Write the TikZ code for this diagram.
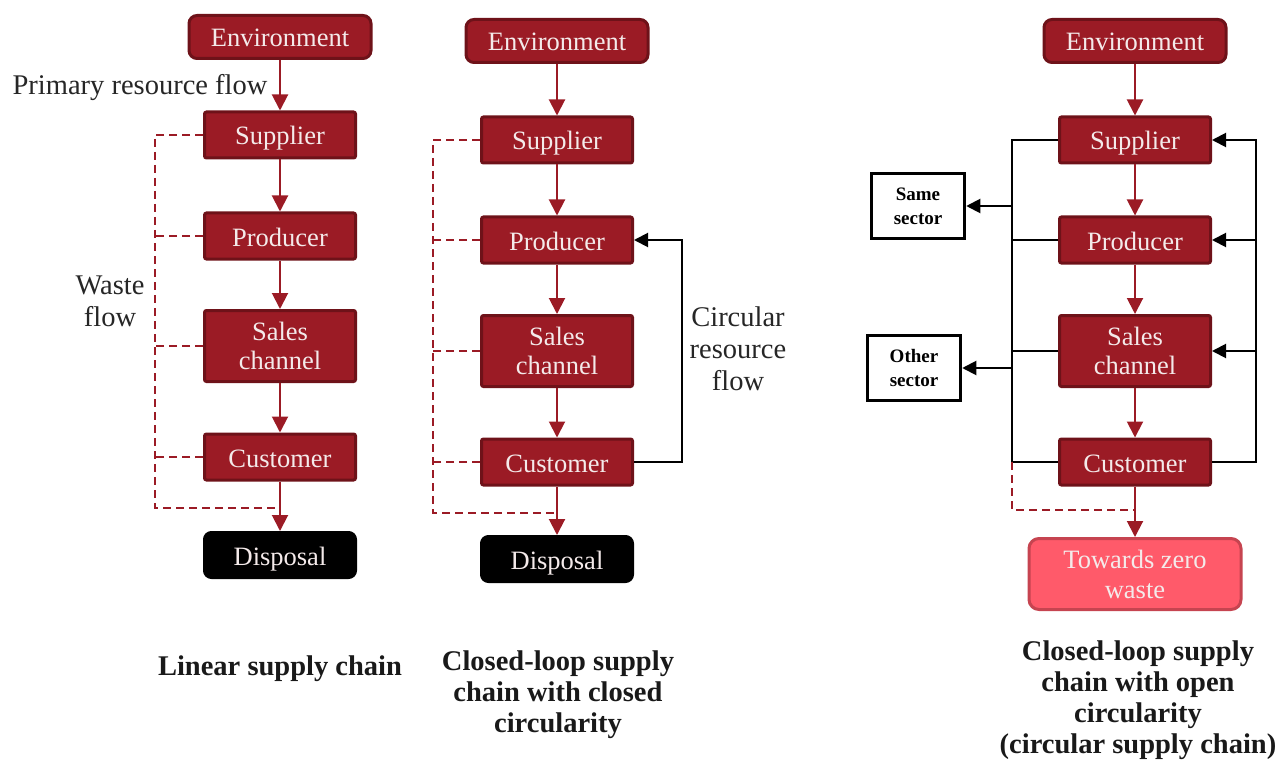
\documentclass[tikz,border=0pt]{standalone}
\usepackage{fontspec}
\setmainfont{Liberation Serif}
\usetikzlibrary{arrows.meta}
\definecolor{chainred}{HTML}{9B1B25}
\definecolor{chainedge}{HTML}{6E1219}
\definecolor{boxtext}{HTML}{F4EAEA}
\definecolor{zerofill}{HTML}{FF5A6A}
\definecolor{zeroedge}{HTML}{C64450}
\tikzset{
  stagebase/.style={draw=chainedge, fill=chainred, line width=3pt, rounded corners=2pt,
    minimum width=151pt, minimum height=46pt, inner sep=0pt, align=center,
    text=boxtext, font=\fontsize{26.5}{29}\selectfont},
  stage/.style={stagebase, text height=20pt, text depth=0pt},
  tallstage/.style={stagebase, minimum height=71pt},
  envbox/.style={stage, rounded corners=8pt, minimum width=182pt, minimum height=43pt},
  disposalbox/.style={draw=black, fill=black, rounded corners=8pt, line width=1pt,
    minimum width=153pt, minimum height=47pt, inner sep=0pt,
    text height=20pt, text depth=0pt,
    text=boxtext, font=\fontsize{26.5}{29}\selectfont},
  zerobox/.style={draw=zeroedge, fill=zerofill, line width=3pt, rounded corners=10pt,
    minimum width=212pt, minimum height=71pt, inner sep=0pt, align=center,
    text=boxtext, font=\fontsize{26.5}{30}\selectfont},
  sectorbox/.style={draw=black, line width=3.5pt, minimum width=93pt, minimum height=65pt,
    inner sep=0pt, align=center, font=\bfseries\fontsize{19}{24}\selectfont},
  label/.style={align=center, text=black!85, font=\fontsize{28.5}{32}\selectfont},
  caption/.style={align=center, text=black!90, font=\bfseries\fontsize{28.5}{31}\selectfont},
  flow/.style={draw=chainred, line width=2pt, -{Triangle[length=16pt,width=16pt]}},
  waste/.style={draw=chainred, line width=2pt, dash pattern=on 8pt off 5pt},
  loop/.style={draw=black, line width=2pt},
  looparrow/.style={loop, -{Triangle[length=14pt,width=14pt]}},
}
\begin{document}
\begin{tikzpicture}[x=1pt,y=-1pt]
\useasboundingbox (0,0) rectangle (1282,762);

% ---------- linear supply chain ----------
\node[envbox] (env1) at (280,37) {Environment};
\node[stage] (sup1) at (280,135) {Supplier};
\node[stage] (pro1) at (280,236) {Producer};
\node[tallstage] (sal1) at (280,346) {Sales\\channel};
\node[stage] (cus1) at (280,457) {Customer};
\node[disposalbox] (dis1) at (280,555) {Disposal};
\node[label, anchor=east] (prim) at (271,88) {Primary resource flow};
\node[label] (wst) at (110,301) {Waste\\flow};
\coordinate (w1) at (155,508);

\draw[flow] (env1) -- (sup1);
\draw[flow] (sup1) -- (pro1);
\draw[flow] (pro1) -- (sal1);
\draw[flow] (sal1) -- (cus1);
\draw[flow] (cus1) -- (dis1);
\draw[waste] (sup1.west) -| (w1) -- (w1 -| cus1.south);
\draw[waste] (pro1.west) -- (pro1.west -| w1);
\draw[waste] (sal1.west) -- (sal1.west -| w1);
\draw[waste] (cus1.west) -- (cus1.west -| w1);
\node[caption] (cap1) at (280,669) {Linear supply chain};

% ---------- closed-loop, closed circularity ----------
\node[envbox] (env2) at (557,41) {Environment};
\node[stage] (sup2) at (557,140) {Supplier};
\node[stage] (pro2) at (557,240) {Producer};
\node[tallstage] (sal2) at (557,351) {Sales\\channel};
\node[stage] (cus2) at (557,462) {Customer};
\node[disposalbox] (dis2) at (557,559) {Disposal};
\node[label] (circ) at (738,349) {Circular\\resource\\flow};
\coordinate (w2) at (433,513);
\coordinate (fb2) at (682,240);

\draw[flow] (env2) -- (sup2);
\draw[flow] (sup2) -- (pro2);
\draw[flow] (pro2) -- (sal2);
\draw[flow] (sal2) -- (cus2);
\draw[flow] (cus2) -- (dis2);
\draw[waste] (sup2.west) -| (w2) -- (w2 -| cus2.south);
\draw[waste] (pro2.west) -- (pro2.west -| w2);
\draw[waste] (sal2.west) -- (sal2.west -| w2);
\draw[waste] (cus2.west) -- (cus2.west -| w2);
\draw[looparrow] (cus2.east) -| (fb2) -- (pro2.east);
\node[caption] (cap2) at (558,695) {Closed-loop supply\\chain with closed\\circularity};

% ---------- closed-loop, open circularity ----------
\node[envbox] (env3) at (1135,41) {Environment};
\node[stage] (sup3) at (1135,140) {Supplier};
\node[stage] (pro3) at (1135,240) {Producer};
\node[tallstage] (sal3) at (1135,351) {Sales\\channel};
\node[stage] (cus3) at (1135,462) {Customer};
\node[zerobox] (zero) at (1135,574) {Towards zero\\waste};
\node[sectorbox] (same) at (918,206) {Same\\sector};
\node[sectorbox] (other) at (914,368) {Other\\sector};
\coordinate (l3) at (1012,140);
\coordinate (r3) at (1256,140);
\coordinate (w3) at (1012,510);

\draw[flow] (env3) -- (sup3);
\draw[flow] (sup3) -- (pro3);
\draw[flow] (pro3) -- (sal3);
\draw[flow] (sal3) -- (cus3);
\draw[flow] (cus3) -- (zero);
\draw[loop] (sup3.west) -- (sup3.west -| l3) -- (cus3.west -| l3) -- (cus3.west);
\draw[loop] (pro3.west) -- (pro3.west -| l3);
\draw[loop] (sal3.west) -- (sal3.west -| l3);
\draw[looparrow] (same.east -| l3) -- (same.east);
\draw[looparrow] (other.east -| l3) -- (other.east);
\draw[looparrow] (cus3.east) -- (cus3.east -| r3) -- (r3) -- (sup3.east);
\draw[looparrow] (pro3.east -| r3) -- (pro3.east);
\draw[looparrow] (sal3.east -| r3) -- (sal3.east);
\draw[waste] (cus3.west -| l3) -- (w3) -- (w3 -| cus3.south);
\node[caption] (cap3) at (1138,700) {Closed-loop supply\\chain with open\\circularity\\(circular supply chain)};
\end{tikzpicture}
\end{document}
